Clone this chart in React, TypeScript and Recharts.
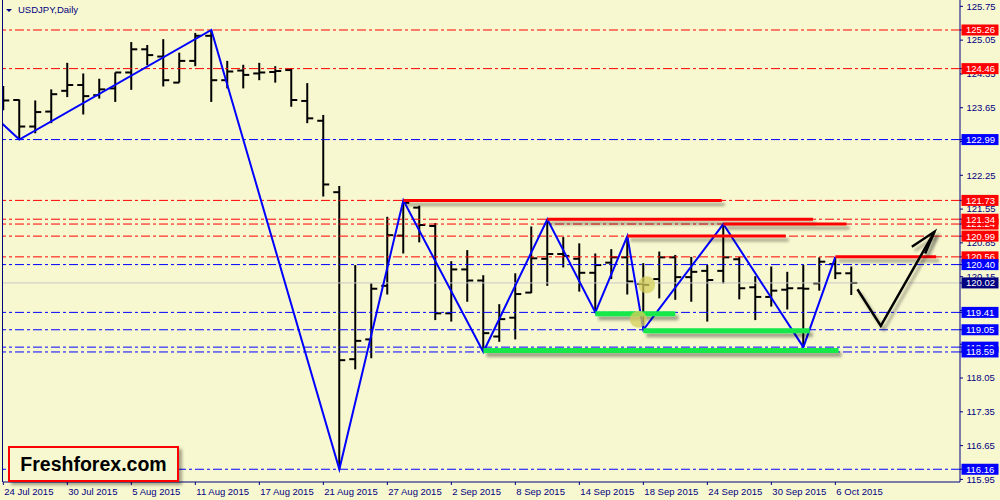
import React from 'react';
import { ComposedChart, Bar, Line, XAxis, YAxis, ReferenceLine, Scatter } from 'recharts';

// ---------- data ----------
const tickLabels = ['24 Jul 2015', '30 Jul 2015', '5 Aug 2015', '11 Aug 2015', '17 Aug 2015', '21 Aug 2015', '27 Aug 2015', '2 Sep 2015', '8 Sep 2015', '14 Sep 2015', '18 Sep 2015', '24 Sep 2015', '30 Sep 2015', '6 Oct 2015'];
const tickIndex = [0, 4, 8, 12, 16, 20, 24, 28, 32, 36, 40, 44, 48, 52];

const opens = [124.00, 123.81, 123.26, 123.57, 124.00, 124.12, 123.91, 124.05, 124.38, 124.86, 124.71, 124.17, 124.62, 125.14, 124.22, 124.42, 124.36, 124.39, 124.43, 123.79, 123.38, 121.90, 118.44, 118.85, 119.96, 121.00, 121.58, 121.20, 119.39, 120.30, 120.07, 118.91, 119.30, 119.82, 120.52, 120.62, 120.52, 120.23, 120.44, 120.55, 120.00, 120.10, 120.55, 120.14, 120.27, 120.27, 120.51, 119.93, 119.73, 119.88, 119.91, 120.01, 120.41, 120.22];
const highs = [124.10, 123.82, 123.80, 124.03, 124.58, 124.36, 124.25, 124.38, 125.01, 124.95, 125.07, 124.79, 125.20, 125.26, 124.62, 124.54, 124.58, 124.51, 124.47, 124.16, 123.50, 122.03, 120.39, 120.01, 121.39, 121.73, 121.62, 121.26, 120.47, 120.70, 120.18, 119.58, 120.22, 121.19, 121.34, 120.97, 120.84, 120.63, 120.72, 120.99, 120.43, 120.67, 120.60, 120.56, 120.39, 121.24, 120.56, 120.16, 120.36, 120.25, 120.39, 120.55, 120.56, 120.36];
const lows = [123.60, 122.99, 123.12, 123.33, 123.87, 123.51, 123.84, 123.77, 124.02, 124.53, 124.09, 124.17, 124.51, 123.77, 124.05, 124.05, 124.22, 124.17, 123.67, 123.33, 121.81, 116.16, 118.23, 118.46, 119.78, 120.63, 120.86, 119.25, 119.22, 119.63, 118.59, 118.80, 118.85, 119.81, 119.96, 120.34, 119.84, 119.41, 120.10, 119.78, 119.05, 119.70, 119.67, 119.63, 119.22, 120.01, 119.68, 119.25, 119.53, 119.47, 118.69, 119.86, 120.10, 119.77];
const closes = [123.80, 123.26, 123.56, 123.93, 124.12, 123.89, 124.03, 124.38, 124.86, 124.74, 124.22, 124.62, 125.14, 124.22, 124.40, 124.33, 124.38, 124.41, 123.81, 123.43, 122.06, 118.42, 118.82, 119.90, 121.01, 121.68, 121.22, 119.39, 120.30, 120.07, 118.98, 119.27, 119.79, 120.53, 120.62, 120.58, 120.23, 120.39, 120.55, 120.05, 119.98, 120.55, 120.14, 120.25, 120.08, 120.55, 119.91, 119.73, 119.86, 119.91, 119.90, 120.46, 120.22, 120.02];

const yTicks = [125.75, 125.05, 124.35, 123.65, 122.95, 122.25, 121.55, 120.85, 120.15, 119.45, 118.75, 118.05, 117.35, 116.65, 115.95];

const redLevels = [125.26, 124.46, 121.73, 121.24, 121.34, 120.99, 120.56];
const blueLevels = [122.99, 120.40, 119.41, 119.05, 118.69, 118.59, 116.16];
const currentPrice = 120.02;

const zigX = [-0.2, 1, 13, 21, 25, 30, 34, 37, 39, 40, 45, 50, 52];
const zigY = [123.36, 122.99, 125.26, 116.16, 121.73, 118.59, 121.34, 119.41, 120.99, 119.05, 121.24, 118.69, 120.56];

const redSegStart = [25, 34, 39, 45, 52];
const redSegEnd = [44.9, 50.6, 48.9, 52.7, 58.3];
const redSegLevel = [121.73, 121.34, 120.99, 121.24, 120.56];

const greenSegStart = [30, 37, 40];
const greenSegEnd = [52.2, 42, 50.4];
const greenSegLevel = [118.62, 119.38, 119.03];

const arrowX = [53.38, 54.84, 58.19];
const arrowY = [119.89, 119.13, 121.08];
const headX = [56.78, 58.19, 57.61];
const headY = [120.77, 121.08, 120.63];

const markX = [40.21, 39.69];
const markY = [119.98, 119.27];

// ---------- derived tables ----------
const bars = opens.map((o, i) => ({ x: i, open: o, high: highs[i], low: lows[i], close: closes[i] }));
const zigzag = zigX.map((x, i) => ({ x, y: zigY[i] }));
const arrowLine = arrowX.map((x, i) => ({ x, y: arrowY[i] }));
const arrowHead = headX.map((x, i) => ({ x, y: headY[i] }));
const marks = markX.map((x, i) => ({ x, y: markY[i] }));

type LevelLabel = { value: number; bg: string };
const levelLabels: LevelLabel[] = [
  ...redLevels.map((v) => ({ value: v, bg: '#ff0000' })),
  ...blueLevels.map((v) => ({ value: v, bg: '#0000ff' })),
  { value: currentPrice, bg: '#000080' },
];
// plain scale ticks first, boxed level labels afterwards so they are painted on top
const allYTicks = [...yTicks, ...levelLabels.map((l) => l.value)];

const BG = '#f8f8d0';
const NAVY = '#000080';
const FONT = '"Liberation Sans", Arial, sans-serif';

const OhlcShape = (props: any) => {
  const { x, y, width, height, payload } = props;
  if (x == null || y == null) return null;
  const cx = x + width / 2;
  const top = Math.min(y, y + height);
  const bot = Math.max(y, y + height);
  const span = payload.high - payload.low || 1;
  const yOf = (v: number) => top + ((payload.high - v) / span) * (bot - top);
  const yo = yOf(payload.open);
  const yc = yOf(payload.close);
  return (
    <g>
      <line x1={cx} x2={cx} y1={top} y2={bot} stroke="#000" strokeWidth={2} />
      <line x1={cx - 6} x2={cx} y1={yo} y2={yo} stroke="#000" strokeWidth={2} />
      <line x1={cx} x2={cx + 6} y1={yc} y2={yc} stroke="#000" strokeWidth={2} />
    </g>
  );
};

const XTick = (props: any) => {
  const { x, y, payload } = props;
  const i = tickIndex.indexOf(payload.value);
  return (
    <text x={x + 1} y={y + 8} fill={NAVY} fontSize={9.5} fontFamily={FONT} textAnchor="start">
      {i >= 0 ? tickLabels[i] : ''}
    </text>
  );
};

const YTick = (props: any) => {
  const { x, y, payload } = props;
  const lab = levelLabels.find((l) => Math.abs(l.value - payload.value) < 1e-6);
  if (lab) {
    const left = x - 3.5;
    return (
      <g>
        <rect x={left} y={y - 5.5} width={37} height={11} fill={lab.bg} />
        <text x={left + 4.5} y={y} dy="0.36em" fill="#ffffff" fontSize={9.5} fontFamily={FONT}>
          {lab.value.toFixed(2)}
        </text>
      </g>
    );
  }
  return (
    <text x={x + 1.5} y={y} dy="0.35em" fill={NAVY} fontSize={9.5} fontFamily={FONT} textAnchor="start">
      {Number(payload.value).toFixed(2)}
    </text>
  );
};

const dash = '9 3 3 3';

export default function App() {
  return (
    <div style={{ position: 'absolute', left: 0, top: 0, width: 1000, height: 500, background: BG, overflow: 'hidden' }}>
      <ComposedChart width={1000} height={500} data={bars} margin={{ top: 0, right: 0, bottom: 0, left: 3 }}>
        <defs>
          <filter id="sh" filterUnits="userSpaceOnUse" x="0" y="0" width="1000" height="500">
            <feDropShadow dx="3" dy="4" stdDeviation="1.8" floodColor="#000" floodOpacity="0.35" />
          </filter>
        </defs>
        <XAxis
          dataKey="x"
          type="number"
          domain={[-0.02, 59.79]}
          allowDataOverflow
          ticks={tickIndex}
          interval={0}
          height={18}
          tickSize={3}
          tick={<XTick />}
          axisLine={{ stroke: NAVY }}
          tickLine={{ stroke: NAVY }}
        />
        <YAxis
          orientation="right"
          type="number"
          domain={[115.896, 125.8815]}
          allowDataOverflow
          ticks={allYTicks}
          interval={0}
          width={40}
          tickSize={3}
          tick={<YTick />}
          axisLine={{ stroke: NAVY }}
          tickLine={{ stroke: NAVY }}
        />
        <ReferenceLine y={currentPrice} stroke="#c8c8c8" strokeWidth={1} />
        {redLevels.map((v) => (
          <ReferenceLine key={'r' + v} y={v} stroke="#ff0000" strokeDasharray={dash} strokeWidth={1} />
        ))}
        {blueLevels.map((v) => (
          <ReferenceLine key={'b' + v} y={v} stroke="#0000ff" strokeDasharray={dash} strokeWidth={1} />
        ))}
        <Bar dataKey={(d: any) => [d.low, d.high]} barSize={8} shape={OhlcShape} isAnimationActive={false} />
        <Line data={zigzag} dataKey="y" stroke="#0000ff" strokeWidth={2} dot={false} activeDot={false} isAnimationActive={false} />
        {redSegStart.map((s, i) => (
          <Line
            key={'rs' + i}
            data={[{ x: s, y: redSegLevel[i] }, { x: redSegEnd[i], y: redSegLevel[i] }]}
            dataKey="y"
            stroke="#ff0000"
            strokeWidth={3}
            dot={false}
            activeDot={false}
            isAnimationActive={false}
            filter="url(#sh)"
          />
        ))}
        {greenSegStart.map((s, i) => (
          <Line
            key={'gs' + i}
            data={[{ x: s, y: greenSegLevel[i] }, { x: greenSegEnd[i], y: greenSegLevel[i] }]}
            dataKey="y"
            stroke="#16e84a"
            strokeWidth={5}
            dot={false}
            activeDot={false}
            isAnimationActive={false}
            filter="url(#sh)"
          />
        ))}
        <Line data={arrowLine} dataKey="y" stroke="#000" strokeWidth={2.5} dot={false} activeDot={false} isAnimationActive={false} filter="url(#sh)" />
        <Line data={arrowHead} dataKey="y" stroke="#000" strokeWidth={2.5} dot={false} activeDot={false} isAnimationActive={false} filter="url(#sh)" />
        <Scatter
          data={marks}
          dataKey="y"
          isAnimationActive={false}
          shape={(p: any) => <circle cx={p.cx} cy={p.cy} r={8.5} fill="#d4cf5c" fillOpacity={0.75} />}
        />
      </ComposedChart>
      <div style={{ position: 'absolute', left: 2, top: 0, width: 1, height: 482, background: NAVY }} />
      <div style={{ position: 'absolute', left: 6, top: 2, fontFamily: FONT, fontSize: 9.5, color: NAVY, lineHeight: '16px', whiteSpace: 'nowrap' }}>
        <span style={{ display: 'inline-block', width: 0, height: 0, borderLeft: '3px solid transparent', borderRight: '3px solid transparent', borderTop: '3px solid ' + NAVY, marginRight: 6, verticalAlign: 'middle' }} />
        USDJPY,Daily
      </div>
      <div
        style={{
          position: 'absolute',
          left: 8,
          top: 446,
          width: 167,
          height: 32,
          border: '2.5px solid #ff0000',
          background: BG,
          boxShadow: '3px 3px 3px rgba(0,0,0,0.35)',
          fontFamily: FONT,
          fontWeight: 'bold',
          fontSize: 19.5,
          color: '#000',
          lineHeight: '32px',
          textAlign: 'center',
          whiteSpace: 'nowrap',
        }}
      >
        Freshforex.com
      </div>
    </div>
  );
}
